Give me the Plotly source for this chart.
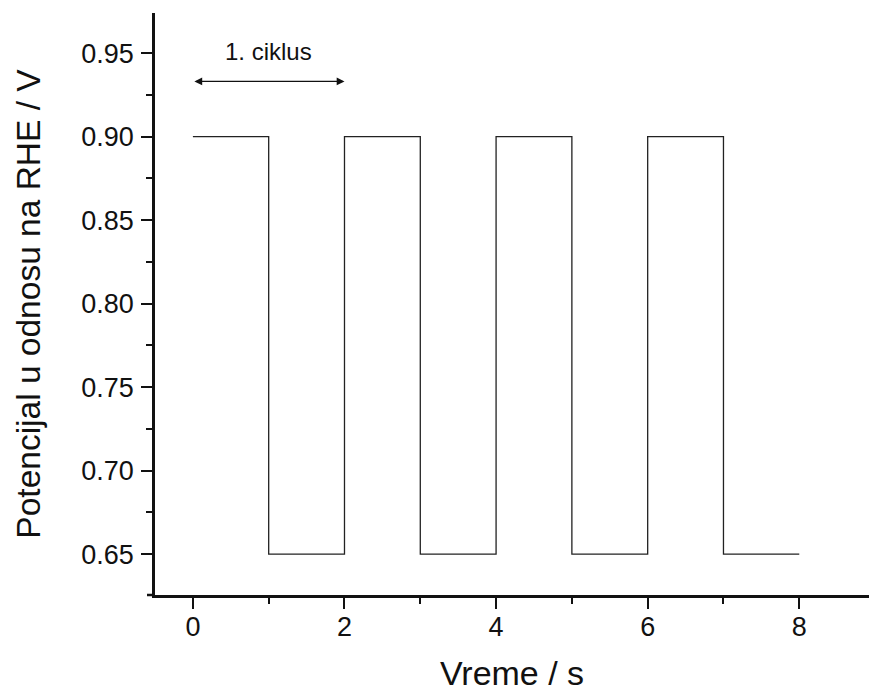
import plotly.graph_objects as go

# Data: square-wave potential program
time_s = [0, 1, 2, 3, 4, 5, 6, 7, 8]
potential_V = [0.90, 0.65, 0.90, 0.65, 0.90, 0.65, 0.90, 0.65, 0.65]

x_ticks = [0, 2, 4, 6, 8]
y_ticks = [0.65, 0.70, 0.75, 0.80, 0.85, 0.90, 0.95]
y_tick_labels = ["0.65", "0.70", "0.75", "0.80", "0.85", "0.90", "0.95"]

cycle_label = "1. ciklus"
cycle_start, cycle_end = 0, 2
cycle_arrow_y = 0.933
cycle_text_y = 0.951

FONT = "Arial, Liberation Sans, Helvetica, sans-serif"

fig = go.Figure()
fig.add_trace(go.Scatter(
    x=time_s, y=potential_V, mode="lines", line_shape="hv",
    line=dict(color="#222222", width=1.3), showlegend=False,
))

# double-headed arrow for one cycle
fig.add_annotation(
    x=cycle_end, y=cycle_arrow_y, ax=cycle_start, ay=cycle_arrow_y,
    xref="x", yref="y", axref="x", ayref="y",
    text="", showarrow=True, arrowside="end+start", arrowhead=2,
    arrowsize=1.2, arrowwidth=1.3, arrowcolor="#111111",
    standoff=0, startstandoff=0,
)
fig.add_annotation(
    x=(cycle_start + cycle_end) / 2, y=cycle_text_y, xref="x", yref="y",
    text=cycle_label, showarrow=False,
    font=dict(family=FONT, size=24, color="#111111"),
)

# small extension of x axis line to the left of y axis (as in original)
fig.add_shape(type="line", xref="paper", yref="paper",
              x0=-8 / 714, x1=0, y0=0, y1=0,
              line=dict(color="#111111", width=2.5))

axis_common = dict(
    showline=True, linecolor="#111111", linewidth=2.5,
    ticks="outside", ticklen=11, tickwidth=2, tickcolor="#111111",
    showgrid=False, zeroline=False, mirror=False, automargin=False,
    tickfont=dict(family=FONT, size=27, color="#111111"),
)

fig.update_xaxes(
    range=[-0.5, 8.92], tickvals=x_ticks,
    title=dict(text="Vreme / s", font=dict(family=FONT, size=34, color="#111111"), standoff=34),
    minor=dict(dtick=1, tick0=0, ticks="outside", ticklen=6, tickwidth=2, tickcolor="#111111"),
    ticklabelstandoff=-5,
    **axis_common,
)
fig.update_yaxes(
    range=[0.6255, 0.974], tickvals=y_ticks, ticktext=y_tick_labels,
    title=dict(text="Potencijal u odnosu na RHE / V", font=dict(family=FONT, size=33.5, color="#111111"), standoff=31),
    minor=dict(dtick=0.025, tick0=0.65, ticks="outside", ticklen=6, tickwidth=2, tickcolor="#111111"),
    ticklabelstandoff=2,
    **axis_common,
)

fig.update_layout(
    width=869, height=692,
    margin=dict(l=155, r=0, t=13, b=97),
    paper_bgcolor="white", plot_bgcolor="white",
    font=dict(family=FONT, color="#111111"),
)

fig.write_html(
    "out.html",
    config={"displayModeBar": False},
    post_script="document.body.style.margin='0';document.body.style.padding='0';"
                "document.body.style.overflow='hidden';"
                "document.documentElement.style.overflow='hidden';",
)
